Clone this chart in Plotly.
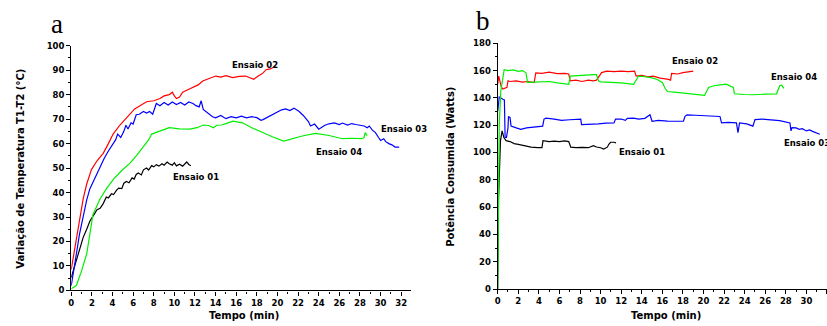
import plotly.graph_objects as go

# ---------------- Panel a: temperature difference ----------------
a_t_01 = [0, 0.25, 0.5, 0.8, 1.16, 1.5, 1.8, 2.2, 2.5, 2.8, 3.1, 3.4, 3.6, 3.9, 4.1, 4.4, 4.6, 4.9, 5.1, 5.35,
          5.6, 5.9, 6.1, 6.3, 6.5, 6.8, 7.0, 7.3, 7.5, 7.8, 8.0, 8.25, 8.5, 8.8, 9.0, 9.3, 9.5, 9.8, 10.0, 10.2,
          10.5, 10.8, 11.0, 11.2, 11.4, 11.6]
a_v_01 = [5.3, 9, 12.5, 17, 21.7, 25, 28.3, 31, 33, 33.6, 35.5, 38.2, 37.8, 39.5, 39.2, 41, 41.8, 41.6, 43.8, 44.5,
          44, 46, 45.5, 47.4, 48, 47.2, 49.3, 50, 49.2, 51, 50.5, 51.4, 50.8, 51.8, 51.2, 52.5, 51.8, 51.2, 52.2,
          50.9, 51.6, 50.8, 51.8, 52.5, 51.5, 51]

a_t_02 = [0, 0.35, 0.7, 1.16, 1.5, 1.96, 2.5, 3.1, 3.6, 4.06, 4.7, 5.35, 6.15, 7.3, 8.0, 8.6, 9.0, 9.5, 9.8, 10.0,
          10.2, 10.5, 10.8, 11.3, 11.8, 12.3, 12.75, 13.4, 14.0, 14.5, 15.0, 15.65, 16.3, 16.9, 17.3, 17.7, 18.1,
          18.5, 18.9, 19.3, 19.8]
a_v_02 = [8.6, 17.8, 27, 37.5, 43.5, 49.4, 53, 56, 60, 63.9, 67.5, 70.5, 74.2, 77.1, 77.5, 78.4, 79.5, 80, 81, 79.5,
          78.4, 79, 81, 82, 83, 84, 85.6, 86.5, 87.6, 87.2, 87.8, 87, 87.5, 87.6, 86.8, 86.3, 87.5,
          88.5, 90.2, 90.5, 91.6]

a_t_03 = [0, 0.25, 0.5, 0.8, 1.16, 1.5, 1.8, 2.3, 2.8, 3.2, 3.6, 4.06, 4.3, 4.5, 4.8, 5.1, 5.3, 5.5, 5.8, 6.0,
          6.3, 6.6, 7.0, 7.3, 7.6, 7.9, 8.1, 8.25, 8.6, 9.0, 9.4, 9.8, 10.2, 10.6, 11.0, 11.4, 11.8, 12.1, 12.4,
          12.6, 12.8, 13.1, 13.4, 13.7, 14.0, 14.5, 15.0, 15.5, 16.0, 16.5, 17.0, 17.5, 18.0, 18.4, 18.6, 19.2,
          19.8, 20.4, 20.8, 21.2, 21.6, 22.1, 22.5, 23.0, 23.2, 23.6, 24.0, 24.2, 24.6, 25.0, 25.5, 26.0, 26.3,
          26.8, 27.2, 27.6, 28.0, 28.4, 28.7, 28.9, 29.2, 29.5, 29.8, 30.0, 30.3, 30.5, 30.8, 31.1, 31.4, 31.8]
a_v_03 = [2, 8, 15, 23, 31, 37, 41.5, 46, 50.7, 54, 57, 60, 61.5, 63.9, 62.5, 65, 67.5, 66, 68.5, 68,
          71.8, 72, 73.1, 72.5, 73.1, 72, 74.5, 76.4, 75.5, 76.8, 75.8, 77, 76, 76.8, 75.8, 77, 76.4, 75.5, 75,
          77.5, 74, 73.1, 72, 71, 70.5, 71.5, 70.2, 71, 70.5, 71.2, 70.5, 71, 70.6, 69.5, 69.8, 71.1,
          72.2, 73.8, 74.2, 73.5, 74.5, 73.1, 71.5, 69, 67.2, 68, 65.9, 66.5, 67.5, 68.1, 68.5, 67.8, 68.4,
          67.6, 68.2, 67.8, 67.5, 67.2, 66.5, 67.2, 65.5, 64.5, 62.5, 61.3, 62, 60.8, 60, 59.5, 58.6, 58.6]

a_t_04 = [0, 0.5, 1.0, 1.5, 2.1, 2.8, 3.4, 4.1, 4.9, 5.7, 6.4, 7.0, 7.5, 7.8, 8.5, 9.5, 10.5, 11.5, 12.2, 12.8,
          13.3, 13.8, 14.1, 14.6, 15.2, 15.7, 16.2, 16.6, 17.5, 18.55, 19.5, 20.6, 21.5, 22.5, 23.7, 24.3, 25.0,
          26.3, 27.2, 28.2, 28.4, 28.5, 28.7]
a_v_04 = [0.7, 2, 8, 15, 31, 37.5, 41.5, 45.5, 49, 52, 55.5, 58.6, 61.5, 63.9, 65, 66.5, 66, 65.9, 66.5, 67.6,
          67.4, 66.5, 67.5, 67.6, 68.5, 69.2, 68.8, 68.5, 66.5, 64.5, 62.8, 61, 62, 63.2, 64.2, 63.8, 63.3,
          62, 62.2, 62, 62.5, 64.5, 63.3]

# ---------------- Panel b: power consumed ----------------
b_t_01 = [0, 0.08, 0.27, 0.43, 0.6, 0.82, 1.2, 1.6, 2.0, 2.5, 3.0, 3.24, 3.9, 4.3, 4.4, 5.0, 5.5, 6.0, 6.5, 6.9,
          7.0, 7.1, 7.6, 8.2, 8.8, 9.3, 9.6, 10.0, 10.3, 10.65, 10.8, 10.97, 11.3, 11.5]
b_v_01 = [0, 66, 108.7, 115.8, 111, 108.7, 108, 106.5, 106, 105, 104.5, 103.9, 103.5, 103.5, 108.7, 108, 108.3,
          108, 108.5, 108, 106, 103.9, 103.5, 103.8, 103.5, 105, 104, 103.5, 102.5, 103.9, 106, 107.5, 107.5, 107]

b_t_02 = [0, 0.1, 0.35, 0.5, 0.9, 1.0, 1.2, 1.8, 2.4, 3.0, 3.55, 3.7, 4.3, 5.0, 5.8, 6.5, 6.9, 7.05, 7.6, 8.2,
          8.8, 9.3, 9.6, 10.1, 10.6, 11.3, 12.0, 12.7, 13.3, 13.45, 14.0, 14.6, 15.1, 15.8, 16.6, 16.8, 16.9,
          17.5, 18.0, 18.5, 19.0]
b_v_02 = [150, 156, 148, 146.5, 147.7, 152.5, 152, 152.5, 151.5, 152, 151.3, 158.4, 158, 158.8, 157.8, 158,
          157.5, 152.5, 153, 152, 153, 152.5, 153, 158.5, 159.6, 159.2, 159.6, 159.2, 159.6, 156, 156.5, 155.5,
          156, 154.5, 153.6, 153, 157.9, 157.5, 158.5, 158.8, 159.6]

b_t_03 = [0, 0.15, 0.5, 0.65, 0.72, 0.85, 1.0, 1.05, 1.2, 1.3, 1.8, 2.25, 2.8, 3.4, 4.0, 4.37, 4.5, 4.7, 5.5,
          6.2, 7.0, 7.6, 8.07, 8.15, 8.8, 9.4, 9.8, 10.5, 11.1, 11.3, 11.45, 12.0, 12.4, 12.6, 13.2, 13.7, 14.3,
          14.8, 15.0, 15.6, 16.5, 17.4, 18.05, 18.2, 18.4, 19.2, 20.0, 20.8, 21.6, 21.75, 22.4, 23.2, 23.35,
          23.5, 24.2, 24.8, 25.0, 25.7, 26.4, 27.4, 28.4, 28.5, 28.6, 29.0, 29.3, 29.6, 30.0, 30.3, 30.6, 30.9,
          31.3]
b_v_03 = [130, 140.6, 139, 138.5, 111, 111, 118, 126.4, 125.5, 119.3, 118, 117, 118, 118.5, 119.5, 119.3,
          124.5, 125.2, 124.5, 123.5, 124, 124.5, 124.5, 120.5, 120.5, 121, 121, 121.5, 121.7, 121.7, 124.5,
          124.5, 123.5, 125, 125.2, 124.5, 125, 127.6, 122.9, 123.5, 123, 123.2, 122.9, 126.5, 127.6, 127.3,
          127, 126.7, 126.4, 121.7, 122, 121.7, 114.6, 121.7, 121, 119.3, 124.1, 124.5, 124, 123.3, 121.7,
          115.8, 118.2, 118, 117, 117.5, 115.8, 116.5, 115.5, 114.5, 113.4]

b_t_04 = [0, 0.05, 0.15, 0.3, 0.5, 0.63, 1.0, 1.5, 2.0, 2.4, 2.75, 2.9, 3.5, 4.3, 5.0, 5.8, 6.5, 6.9, 7.05, 7.8,
          8.6, 9.3, 9.6, 9.8, 10.0, 11.0, 12.0, 13.2, 13.7, 14.3, 14.9, 15.5, 16.0, 16.3, 16.5, 17.4, 18.4, 19.3,
          20.1, 20.5, 21.0, 21.6, 22.2, 22.9, 23.0, 24.0, 24.8, 26.0, 27.1, 27.4, 27.6, 27.8]
b_v_04 = [0, 60, 120, 145, 155, 160.7, 160, 160.5, 159.5, 160, 158.4, 151.3, 151.5, 151.5, 152, 151, 150.5, 150,
          156, 156.5, 156.5, 157, 157, 152.5, 151.8, 151.5, 151, 150, 156, 155.5, 154.8, 153.5, 151.3, 146.5,
          144.7, 144, 143, 142.5, 141.8, 147.7, 148.9, 149.5, 150, 147.7, 143, 142.5, 142.3, 142.7, 143, 148.9,
          149.3, 147]

series_names = ["Ensaio 01", "Ensaio 02", "Ensaio 03", "Ensaio 04"]
series_colors = ["#000000", "#ff0000", "#0000ff", "#00ee00"]

x_ticks = list(range(0, 33, 2))
a_y_ticks = list(range(0, 101, 10))
b_y_ticks = list(range(0, 181, 20))

x_title = "Tempo (min)"
a_y_title = "Variação de Temperatura T1-T2 (°C)"
b_y_title = "Potência Consumida (Watts)"

W, H = 827, 326


def px(x):
    return x / W


def py(y):
    return (H - y) / H


# series label positions (pixel, left edge / vertical centre)
a_label_xy = [(169, 177.7), (228, 62), (377, 128.3), (311.7, 151.7)]
b_label_xy = [(616, 152), (669, 57.7), (782, 142.7), (769, 74.3)]

fig = go.Figure()

a_data = [(a_t_01, a_v_01), (a_t_02, a_v_02), (a_t_03, a_v_03), (a_t_04, a_v_04)]
b_data = [(b_t_01, b_v_01), (b_t_02, b_v_02), (b_t_03, b_v_03), (b_t_04, b_v_04)]

for (t, v), name, col in zip(a_data, series_names, series_colors):
    fig.add_trace(go.Scatter(x=t, y=v, mode="lines", name=name, line=dict(color=col, width=1.2),
                             xaxis="x", yaxis="y", showlegend=False))
for (t, v), name, col in zip(b_data, series_names, series_colors):
    fig.add_trace(go.Scatter(x=t, y=v, mode="lines", name=name, line=dict(color=col, width=1.2),
                             xaxis="x2", yaxis="y2", showlegend=False))

FAM = "DejaVu Sans, Liberation Sans, Arial"
tickfont = dict(family=FAM, size=8.5, color="black", weight="bold")
label_font = dict(family=FAM, size=8.5, color="black", weight="bold")
title_font = dict(family=FAM, size=10, color="black", weight="bold")

axis_common = dict(showline=True, linecolor="black", linewidth=1.3, ticks="outside", ticklen=4,
                   tickwidth=1.2, tickcolor="black", showgrid=False, zeroline=False, tickfont=tickfont,
                   fixedrange=True)

fig.update_layout(
    width=W, height=H, margin=dict(l=0, r=0, t=0, b=0),
    paper_bgcolor="white", plot_bgcolor="white",
    xaxis=dict(domain=[px(68.5), px(409)], range=[0, 32.9], tickvals=x_ticks, anchor="y",
               minor=dict(ticks="outside", ticklen=2, dtick=1, tickcolor="black", tickwidth=1), **axis_common),
    yaxis=dict(domain=[py(294.5), py(42)], range=[0, 100], tickvals=a_y_ticks, anchor="x",
               minor=dict(ticks="outside", ticklen=2, dtick=5, tickcolor="black", tickwidth=1), **axis_common),
    xaxis2=dict(domain=[px(496.5), 1.0], range=[0, 32], tickvals=x_ticks, anchor="y2",
                minor=dict(ticks="outside", ticklen=2, dtick=1, tickcolor="black", tickwidth=1), **axis_common),
    yaxis2=dict(domain=[py(293), py(39.5)], range=[0, 180], tickvals=b_y_ticks, anchor="x2",
                minor=dict(ticks="outside", ticklen=2, dtick=10, tickcolor="black", tickwidth=1), **axis_common),
)

ann = []
for name, (x, y) in zip(series_names, a_label_xy):
    ann.append(dict(x=px(x), y=py(y), xref="paper", yref="paper", text=name, showarrow=False,
                    font=label_font, xanchor="left", yanchor="middle"))
for name, (x, y) in zip(series_names, b_label_xy):
    ann.append(dict(x=px(x), y=py(y), xref="paper", yref="paper", text=name, showarrow=False,
                    font=label_font, xanchor="left", yanchor="middle"))

# axis titles and panel letters
ann.append(dict(x=px(241.7), y=py(320.5), xref="paper", yref="paper", text=x_title, showarrow=False,
                font=title_font, xanchor="center", yanchor="middle"))
ann.append(dict(x=px(665.8), y=py(320.5), xref="paper", yref="paper", text=x_title, showarrow=False,
                font=title_font, xanchor="center", yanchor="middle"))
ann.append(dict(x=px(18), y=py(169), xref="paper", yref="paper", text=a_y_title, showarrow=False,
                font=title_font, textangle=-90, xanchor="center", yanchor="middle"))
ann.append(dict(x=px(449), y=py(166.5), xref="paper", yref="paper", text=b_y_title, showarrow=False,
                font=title_font, textangle=-90, xanchor="center", yanchor="middle"))
ann.append(dict(x=px(54), y=py(37), xref="paper", yref="paper", text="a", showarrow=False,
                font=dict(family="Liberation Serif, Times New Roman", size=27, color="black"),
                xanchor="center", yanchor="bottom"))
ann.append(dict(x=px(481.5), y=py(34), xref="paper", yref="paper", text="b", showarrow=False,
                font=dict(family="Liberation Serif, Times New Roman", size=27, color="black"),
                xanchor="center", yanchor="bottom"))
fig.update_layout(annotations=ann)

fig.write_html("out.html", config={"displayModeBar": False},
               post_script="document.body.style.margin='0px';document.body.style.padding='0px';")
